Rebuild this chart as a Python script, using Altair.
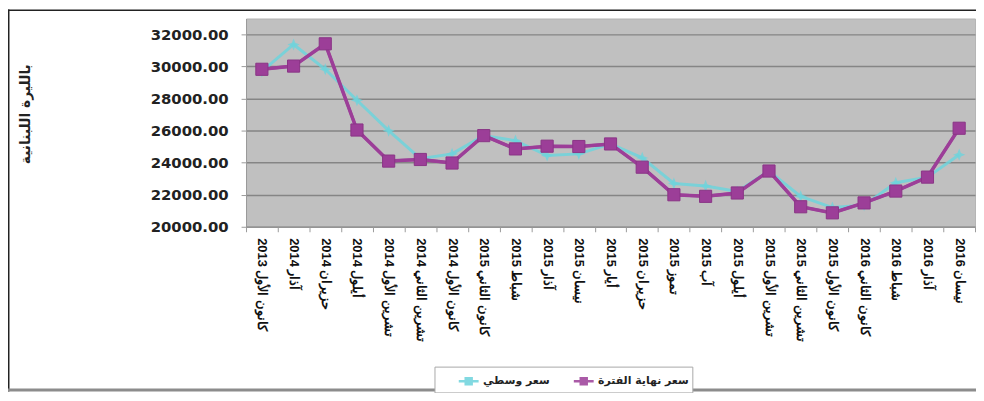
import altair as alt
import pandas as pd

# ---- data ----
months = ["كانون الأول", "آذار", "حزيران", "أيلول", "تشرين الأول", "تشرين الثاني",
          "كانون الأول", "كانون الثاني", "شباط", "آذار", "نيسان", "أيار", "حزيران",
          "تموز", "آب", "أيلول", "تشرين الأول", "تشرين الثاني", "كانون الأول",
          "كانون الثاني", "شباط", "آذار", "نيسان"]
years = [2013, 2014, 2014, 2014, 2014, 2014, 2014,
         2015, 2015, 2015, 2015, 2015, 2015, 2015, 2015, 2015, 2015, 2015, 2015,
         2016, 2016, 2016, 2016]
avg_rate = [29700, 31380, 29830, 27900, 26000, 24250, 24550, 25690, 25380, 24450,
            24550, 25170, 24300, 22700, 22550, 22200, 23480, 21900, 21200, 21350,
            22750, 23100, 24500]
end_rate = [29830, 30030, 31420, 26040, 24100, 24200, 23980, 25690, 24860, 25030,
            25010, 25170, 23720, 22000, 21900, 22110, 23480, 21250, 20870, 21490,
            22230, 23100, 26150]
y_ticks = [20000, 22000, 24000, 26000, 28000, 30000, 32000]
series_names = ["سعر وسطي", "سعر نهاية الفترة"]
series_colors = ["#6dd3dc", "#9c3e98"]
y_title = "بالليرة اللبنانية"

categories = [f"{m} {y}" for m, y in zip(months, years)]
n = len(categories)
df = pd.DataFrame({
    "period": categories * 2,
    "rate": avg_rate + end_rate,
    "series": [series_names[0]] * n + [series_names[1]] * n,
})

star_path = "M0,-1L0.28,-0.28L1,0L0.28,0.28L0,1L-0.28,0.28L-1,0L-0.28,-0.28Z"
leg_symbol = "M-1,0H-0.3M0.3,0H1M-0.3,-0.3H0.3V0.3H-0.3Z"

color_scale = alt.Scale(domain=series_names, range=series_colors)

legend = alt.Legend(
    title=None, orient="none", legendX=190, legendY=351,
    direction="horizontal",
    labelFont="DejaVu Sans", labelFontSize=11, labelFontWeight="bold",
    labelColor="#222222", labelOffset=3,
    symbolType=leg_symbol, symbolSize=400, symbolStrokeWidth=2.5,
    symbolOffset=20, columnPadding=2, padding=3,
    strokeColor="#a8a8a8", fillColor="white",
)

x = alt.X(
    "period:N", sort=categories, bandPosition=0.5,
    scale=alt.Scale(type="band", paddingInner=0, paddingOuter=0),
    axis=alt.Axis(
        title=None, labelAngle=90, labelFont="Liberation Sans", labelFontSize=13,
        labelFontWeight="bold", labelColor="#111111", labelPadding=6, labelLimit=220,
        labelOverlap=False,
        labelExpr="'\u202b' + datum.label + '\u202c'",
        tickBand="extent", tickSize=5, tickColor="#9a9a9a",
        domainColor="#9a9a9a", grid=False,
    ),
)
y = alt.Y(
    "rate:Q",
    scale=alt.Scale(domain=[20000, 33000], nice=False, zero=False),
    axis=alt.Axis(
        values=y_ticks, format=".2f", title=y_title, titleAngle=270,
        titleX=-222, titleY=96, titleAlign="center", titleBaseline="middle",
        titleFont="DejaVu Sans", titleFontSize=14, titleFontWeight="bold",
        titleColor="#222222", labelOverlap=False,
        labelFont="DejaVu Sans", labelFontSize=15, labelFontWeight="bold",
        labelColor="#222222", labelPadding=13, tickSize=5, tickColor="#9a9a9a",
        domainColor="#9a9a9a", gridColor="#858585", gridWidth=1.5,
    ),
)

avg_f = alt.datum.series == series_names[0]
end_f = alt.datum.series == series_names[1]

# both series' lines, carrying the legend
all_lines = alt.Chart(df).mark_line(strokeWidth=3, opacity=0.85).encode(
    x=x, y=y, color=alt.Color("series:N", scale=color_scale, legend=legend))

base = alt.Chart(df).encode(
    x=x, y=y, color=alt.Color("series:N", scale=color_scale, legend=None))
avg_pts = base.transform_filter(avg_f).mark_point(
    shape=star_path, filled=True, size=150, opacity=0.8)
end_line = base.transform_filter(end_f).mark_line(strokeWidth=3.5, color="#8e3a8c")
end_pts = base.transform_filter(end_f).mark_point(
    shape="square", filled=True, size=150, opacity=1, stroke="#8a3586", strokeWidth=1)

frame_df = pd.DataFrame({"k": [0]})
frame_top = alt.Chart(frame_df).mark_rule(color="#222222", strokeWidth=1.5).encode(
    x=alt.value(-240), x2=alt.value(736), y=alt.value(-8.25))
frame_left = alt.Chart(frame_df).mark_rule(color="#222222", strokeWidth=1.5).encode(
    x=alt.value(-239.25), y=alt.value(-9), y2=alt.value(376))
frame_bottom = alt.Chart(frame_df).mark_rule(color="#8c8c8c", strokeWidth=3).encode(
    x=alt.value(-240), x2=alt.value(736), y=alt.value(374.5))

chart = alt.layer(
    all_lines, avg_pts, end_line, end_pts,
    frame_top, frame_left, frame_bottom
).properties(
    width=735, height=210,
    autosize=alt.AutoSizeParams(type="none"),
    padding={"left": 240, "top": 9, "right": 1, "bottom": 166},
    background="white",
).configure_view(
    fill="#c0c0c0", stroke="#b4b4b4", strokeWidth=1,
)

chart.save("out.html", embed_options={"renderer": "svg", "actions": False})
